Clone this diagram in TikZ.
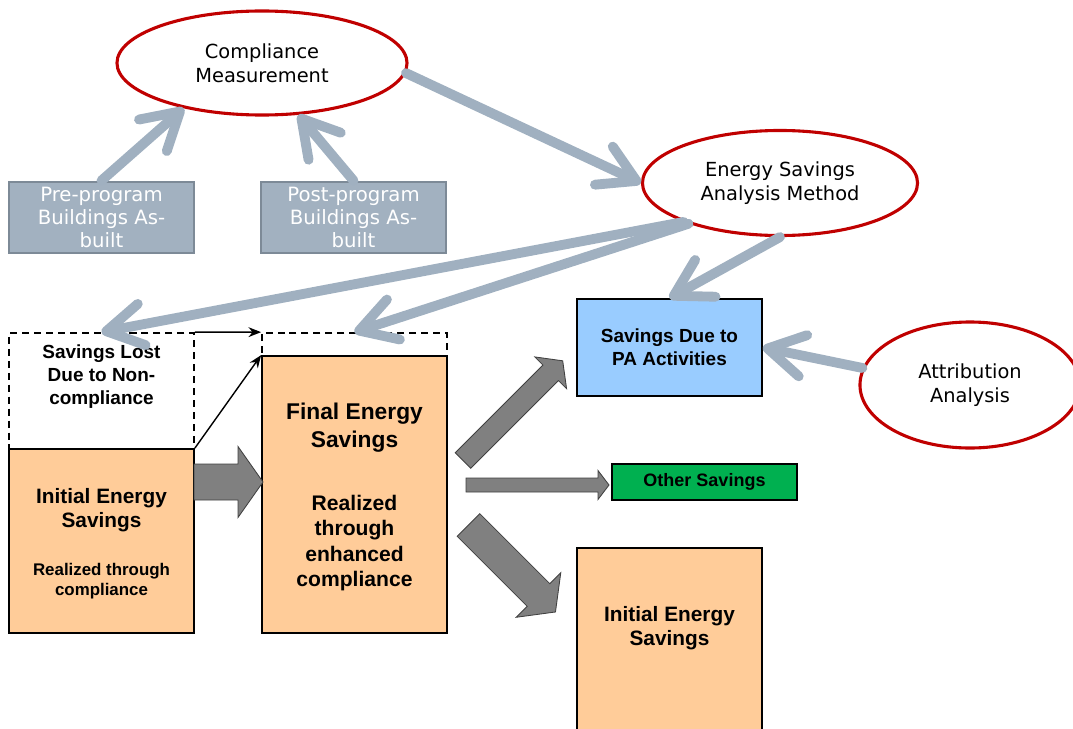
\documentclass[tikz,border=0pt]{standalone}
\usepackage{fontspec}
\setmainfont{DejaVu Sans}
\newfontfamily\arialfont{Liberation Sans}
\usetikzlibrary{shapes.geometric, positioning, arrows.meta}

\definecolor{ovalred}{RGB}{192,0,0}
\definecolor{linkgray}{RGB}{160,176,192}
\definecolor{boxgray}{RGB}{162,177,192}
\definecolor{boxedge}{RGB}{125,138,151}
\definecolor{peach}{RGB}{255,204,153}
\definecolor{skyblue}{RGB}{153,204,255}
\definecolor{othergreen}{RGB}{0,176,80}
\definecolor{blockgray}{RGB}{128,128,128}

\begin{document}
\begin{tikzpicture}[
    x=0.025cm, y=-0.025cm,
    oval/.style={
        ellipse, draw=ovalred, line width=2.2pt,
        fill=white, inner sep=0pt, align=center,
        font=\fontsize{13.8}{17}\selectfont
    },
    built_box/.style={
        draw=boxedge, line width=2pt, fill=boxgray, text=white,
        minimum width=4.625cm, minimum height=1.775cm,
        inner sep=0pt, align=center,
        font=\fontsize{14}{16.4}\selectfont
    },
    sav_box/.style={
        draw=black, line width=1.2pt,
        minimum width=4.625cm, inner sep=0pt, align=center
    },
    lost_box/.style={
        draw=black, line width=1.2pt, dashed,
        dash pattern=on 5pt off 3.5pt,
        minimum width=4.625cm, inner sep=0pt
    },
    bold_txt/.style={align=center, inner sep=0pt},
    link/.style={
        -{Straight Barb[length=0.9cm, width=1.05cm, round]},
        linkgray, line width=7pt, line cap=round
    },
    thin_arrow/.style={
        -{Stealth[length=9pt, width=7pt]},
        black, line width=1pt
    },
    blockarrow/.style={
        fill=blockgray, draw=black!75, line width=0.6pt, line join=miter
    }
]

%% ── Block arrow ────────────────────────────
\tikzset{pics/fatarrow/.style n args={4}{code={
    \draw[blockarrow] (0,-#2) -- (#1-#4,-#2) -- (#1-#4,-#3) -- (#1,0)
        -- (#1-#4,#3) -- (#1-#4,#2) -- (0,#2) -- cycle;
}}}

\useasboundingbox (0,0) rectangle (1073,729);

% ══════════════════════════════════════
%  Parte alta: misura e metodo
% ══════════════════════════════════════
\node[oval, minimum width=7.25cm, minimum height=2.6cm] (compl)
    at (262,63) {Compliance\\Measurement};
\node[oval, minimum width=6.875cm, minimum height=2.625cm] (esam)
    at (780,183) {Energy Savings\\Analysis Method};
\node[oval, minimum width=5.5cm, minimum height=3.15cm] (attr)
    at (970,385) {Attribution\\Analysis};

\node[built_box] (pre_built)  at (101.5,217.5) {Pre-program\\Buildings As-\\built};
\node[built_box] (post_built) at (353.5,217.5) {Post-program\\Buildings As-\\built};

% ══════════════════════════════════════
%  Scatole dei risparmi
% ══════════════════════════════════════
\node[lost_box, minimum height=2.9cm] (lost) at (101.5,391) {};
\node[bold_txt, font=\arialfont\bfseries\fontsize{13.5}{16.4}\selectfont]
    (lost_txt) at (101.5,377) {Savings Lost\\Due to Non-\\compliance};

\node[lost_box, minimum height=0.575cm] (final_top) at (354.5,344.5) {};

\node[sav_box, fill=peach, minimum height=4.6cm] (init) at (101.5,541) {};
\node[bold_txt, font=\arialfont\bfseries\fontsize{14.8}{17}\selectfont]
    (init_title) at (101.5,510) {Initial Energy\\Savings};
\node[bold_txt, font=\arialfont\bfseries\fontsize{12}{14.2}\selectfont]
    (init_sub) at (101.5,581) {Realized through\\compliance};

\node[sav_box, fill=peach, minimum height=6.925cm] (final) at (354.5,494.5) {};
\node[bold_txt, font=\arialfont\bfseries\fontsize{16.2}{20}\selectfont]
    (final_title) at (354.5,428) {Final Energy\\Savings};
\node[bold_txt, font=\arialfont\bfseries\fontsize{15}{18}\selectfont]
    (final_sub) at (354.5,543) {Realized\\through\\enhanced\\compliance};

\node[sav_box, fill=skyblue, minimum height=2.425cm,
    font=\arialfont\bfseries\fontsize{13.5}{16.4}\selectfont]
    (pa) at (669.5,347.5) {Savings Due to\\PA Activities};
\node[sav_box, fill=othergreen, minimum height=0.9cm,
    font=\arialfont\bfseries\fontsize{12.8}{15}\selectfont]
    (other) at (704.5,482) {Other Savings};

\node[sav_box, fill=peach, minimum height=4.8cm] (init_right) at (669.5,644) {};
\node[bold_txt, font=\arialfont\bfseries\fontsize{14.8}{17}\selectfont]
    (init_right_title) at (669.5,628.5) {Initial Energy\\Savings};

% ══════════════════════════════════════
%  Collegamenti
% ══════════════════════════════════════
\draw[link] (pre_built.north)  -- (compl.210);
\draw[link] (post_built.north) -- (compl.305);
\draw[link] (compl.356) -- (esam.west);
\draw[link] (esam.202) -- (lost.north);
\draw[link] (esam.204) -- (final_top.north);
\draw[link] (esam.south) -- (pa.north);
\draw[link] (attr.171) -- (pa.east);

\draw[thin_arrow] (lost.north east) -- (final_top.north west);
\draw[thin_arrow] (init.north east) -- (final.north west);

% frecce piene
\pic at (194,482) {fatarrow={69}{18}{35.5}{25}};
\pic[rotate=45]  at (463,460.5) {fatarrow={141}{11}{22.5}{17}};
\pic at (466,485) {fatarrow={143}{7}{14.5}{11}};
\pic[rotate=-45] at (468.5,525) {fatarrow={123}{16}{31.5}{24}};

\end{tikzpicture}
\end{document}
